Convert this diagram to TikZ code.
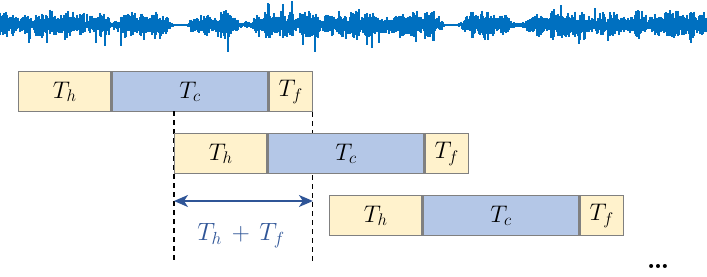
\RequirePackage{fix-cm}
\documentclass[tikz,border=0pt]{standalone}
\usepackage{amsmath}
\usepackage{amssymb}
\usepackage{xcolor}
\usetikzlibrary{positioning,arrows.meta}

\definecolor{wavecol}{HTML}{0070C0}
\definecolor{headcol}{HTML}{FFF2CC}
\definecolor{corecol}{HTML}{B4C7E7}
\definecolor{edgecol}{HTML}{808080}
\definecolor{spancol}{HTML}{2F5597}

\tikzset{
  seg/.style={draw=edgecol,line width=1.3pt,minimum height=40pt,inner sep=0pt,
    font=\fontsize{24}{27}\selectfont},
  headbox/.style={seg,fill=headcol,minimum width=92pt},
  corebox/.style={seg,fill=corecol,minimum width=156pt},
  tailbox/.style={seg,fill=headcol,minimum width=43pt},
  guide/.style={line width=1.1pt,dash pattern=on 5pt off 4pt},
  wave/.style={wavecol,line width=1.1pt}
}

\begin{document}
\begin{tikzpicture}[x=1pt,y=-1pt]
\useasboundingbox (0,0) rectangle (707,276);
% waveform
\pgfmathsetseed{11}
\gdef\blkamp{0.5}
\draw[wave,line width=0.8pt] (0,25) -- (707,25);
\foreach \i in {0,...,706}{
  \pgfmathtruncatemacro{\blk}{mod(\i,5)}
  \ifnum\blk=0 \pgfmathsetmacro{\tmp}{rnd}\xdef\blkamp{\tmp}\fi
  \pgfmathsetmacro{\gate}{max(0.04,min(1,1.45+1.0*sin(\i*5.3+40)+0.6*sin(\i*1.31+10)))}
  \pgfmathsetmacro{\env}{1+15*\gate*(0.4+0.6*\blkamp)}
  \pgfmathsetmacro{\up}{min(24,\env*(0.3+0.7*rnd)*(rnd>0.95 ? 1.7 : 1))}
  \pgfmathsetmacro{\dn}{min(34,\env*(0.3+0.7*rnd)*(rnd>0.95 ? 2 : 1))}
  \draw[wave] (\i,25-\up) -- (\i,25+\dn);
}
% first window
\node[headbox,anchor=north west] (h1) at (18,71) {$T_h$};
\node[corebox,right=0pt of h1] (c1) {$T_c$};
\node[tailbox,right=0pt of c1] (f1) {$T_f$};
% guides
\coordinate (gl) at (174,111);
\coordinate (gr) at (f1.south east);
\draw[guide] (gl) -- ++(0,152) coordinate (glb);
\draw[guide] (gr) -- ++(0,152) coordinate (grb);
% second window
\node[headbox,anchor=north west] (h2) at (174,133) {$T_h$};
\node[corebox,right=0pt of h2] (c2) {$T_c$};
\node[tailbox,right=0pt of c2] (f2) {$T_f$};
% third window
\node[headbox,anchor=north west] (h3) at (329,195) {$T_h$};
\node[corebox,right=0pt of h3] (c3) {$T_c$};
\node[tailbox,right=0pt of c3] (f3) {$T_f$};
% overlap
\coordinate (al) at (174,201);
\coordinate (ar) at (gr |- al);
\draw[spancol,line width=1.6pt,{Stealth[length=14pt,width=12pt,inset=4pt]}-{Stealth[length=14pt,width=12pt,inset=4pt]}] (al) -- (ar);
\node[text=spancol,font=\fontsize{25}{28}\selectfont] (ov) at (241,236) {$T_h \,+\, T_f$};
\node[font=\fontsize{28}{30}\selectfont\bfseries] (more) at (658,266) {\ldots};
\end{tikzpicture}
\end{document}
